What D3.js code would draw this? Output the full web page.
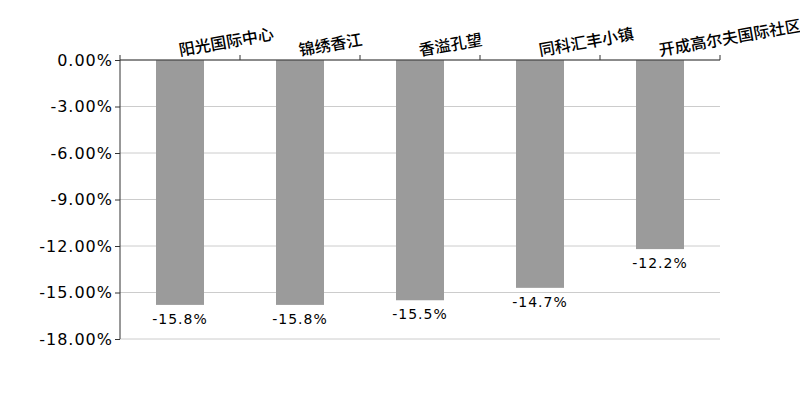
<!DOCTYPE html>
<html>
<head>
<meta charset="utf-8">
<script src="https://cdn.jsdelivr.net/npm/d3@7"></script>
<style>
  body { margin: 0; background: #fff; }
  svg { display: block; }
</style>
</head>
<body>
<svg id="chart"></svg>
<script>
const categories = ["阳光国际中心", "锦绣香江", "香溢孔望", "同科汇丰小镇", "开成高尔夫国际社区"];
const values = [-15.8, -15.8, -15.5, -14.7, -12.2];
const yTicks = [0, -3, -6, -9, -12, -15, -18];

const width = 800;
const height = 400;
const margin = { top: 60, right: 80, bottom: 61, left: 120 };

const svg = d3.select("#chart").attr("width", width).attr("height", height);
const g = svg.append("g").attr("transform", `translate(${margin.left},${margin.top})`);
const w = width - margin.left - margin.right;
const h = height - margin.top - margin.bottom;

const x = d3.scaleBand().domain(categories).range([0, w]).paddingInner(0.6).paddingOuter(0.3);
const y = d3.scaleLinear().domain([0, -18]).range([0, h]);
const center = (d) => x(d) + x.bandwidth() / 2;

// gridlines
g.append("g")
  .selectAll("line")
  .data(yTicks)
  .enter()
  .append("line")
  .attr("x1", 0)
  .attr("x2", w)
  .attr("y1", (d) => y(d))
  .attr("y2", (d) => y(d))
  .style("stroke", "#cccccc")
  .style("stroke-width", 1);

// bars
g.selectAll(".bar")
  .data(values)
  .enter()
  .append("rect")
  .attr("class", "bar")
  .attr("x", (d, i) => x(categories[i]))
  .attr("y", y(0))
  .attr("width", x.bandwidth())
  .attr("height", (d) => y(d) - y(0))
  .style("fill", "#9b9b9b");

// value labels
g.selectAll(".val")
  .data(values)
  .enter()
  .append("text")
  .attr("class", "val")
  .attr("x", (d, i) => center(categories[i]))
  .attr("y", (d) => y(d) + 19)
  .attr("text-anchor", "middle")
  .style("font-family", "DejaVu Sans, sans-serif")
  .style("font-size", "14px")
  .style("letter-spacing", "1px")
  .style("fill", "#000")
  .text((d) => `${d.toFixed(1)}%`);

// left axis
const yAxis = g.append("g")
  .call(d3.axisLeft(y).tickValues(yTicks).tickSize(5).tickFormat((d) => `${d.toFixed(2)}%`));
yAxis.select(".domain").remove();
yAxis.selectAll(".tick line").style("stroke", "#333");
yAxis.selectAll("text")
  .style("font-family", "DejaVu Sans, sans-serif")
  .style("font-size", "16px")
  .style("letter-spacing", "1px")
  .style("fill", "#000")
  .attr("x", -7);
g.append("line")
  .attr("x1", 0).attr("x2", 0)
  .attr("y1", -5).attr("y2", h)
  .style("stroke", "#333");

// top axis with category labels
g.append("line")
  .attr("x1", 0).attr("x2", w)
  .attr("y1", 0).attr("y2", 0)
  .style("stroke", "#333");
g.selectAll(".xtick")
  .data(categories)
  .enter()
  .append("line")
  .attr("class", "xtick")
  .attr("x1", (d) => center(d) + x.step() / 2)
  .attr("x2", (d) => center(d) + x.step() / 2)
  .attr("y1", 0)
  .attr("y2", -5)
  .style("stroke", "#333");

g.selectAll(".cat")
  .data(categories)
  .enter()
  .append("text")
  .attr("class", "cat")
  .attr("transform", (d) => `translate(${center(d)},-4) rotate(-10)`)
  .attr("text-anchor", "start")
  .style("font-family", "Noto Sans CJK SC, sans-serif")
  .style("font-size", "16px")
  .style("font-weight", "500")
  .style("fill", "#000")
  .text((d) => d);
</script>
</body>
</html>
